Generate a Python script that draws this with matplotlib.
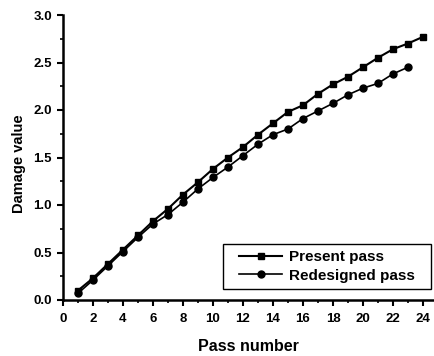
import matplotlib
matplotlib.use("Agg")
import matplotlib.pyplot as plt
from matplotlib.ticker import MultipleLocator
from matplotlib.patches import Rectangle

passes_present = list(range(1, 25))
present = [0.10, 0.23, 0.38, 0.53, 0.68, 0.83, 0.96, 1.11, 1.24, 1.38, 1.50, 1.61,
           1.74, 1.86, 1.98, 2.05, 2.17, 2.27, 2.35, 2.45, 2.55, 2.64, 2.70, 2.77]
passes_redesigned = list(range(1, 24))
redesigned = [0.07, 0.21, 0.36, 0.51, 0.66, 0.80, 0.90, 1.03, 1.17, 1.29, 1.40, 1.52,
              1.64, 1.74, 1.80, 1.91, 1.99, 2.07, 2.16, 2.23, 2.28, 2.38, 2.45]
xticks = list(range(0, 25, 2))
yticks = [0.0, 0.5, 1.0, 1.5, 2.0, 2.5, 3.0]

plt.rcParams['font.family'] = ['Liberation Sans', 'DejaVu Sans']
plt.rcParams['font.weight'] = 'bold'

fig = plt.figure(figsize=(4.34, 3.56), dpi=100)
ax = fig.add_axes([63/434, 1-300/356, (433-63)/434, (300-15)/356])

ax.plot(passes_present, present, color='black', lw=1.5, marker='s', ms=5,
        label='Present pass')
ax.plot(passes_redesigned, redesigned, color='black', lw=1.2, marker='o', ms=5,
        label='Redesigned pass')

ax.set_xlim(0, 24.67)
ax.set_ylim(0, 3.0)
ax.set_xticks(xticks)
ax.set_yticks(yticks)
ax.set_yticklabels([f"{v:.1f}" for v in yticks])
ax.xaxis.set_minor_locator(MultipleLocator(1))
ax.yaxis.set_minor_locator(MultipleLocator(0.25))
ax.tick_params(which='major', direction='out', length=4.5, width=1.5, labelsize=9.5)
ax.tick_params(axis='x', which='major', pad=5)
ax.tick_params(which='minor', direction='out', length=2.5, width=1.2)
for lab in ax.get_xticklabels() + ax.get_yticklabels():
    lab.set_fontweight('bold')

for s in ['top', 'right']:
    ax.spines[s].set_visible(False)
for s in ['left', 'bottom']:
    ax.spines[s].set_linewidth(1.8)

ax.set_xlabel('Pass number', fontsize=11.5, fontweight='bold')
ax.xaxis.set_label_coords(0.5, -0.137)
ax.set_ylabel('Damage value', fontsize=10.5, fontweight='bold')
ax.yaxis.set_label_coords(-0.1, 0.48)

# legend frame
ax.add_patch(Rectangle((0.432, 0.0386), 0.563, 0.1574, transform=ax.transAxes,
                       facecolor='white', edgecolor='black', lw=1.0, zorder=4,
                       clip_on=False))
leg = ax.legend(loc='center', bbox_to_anchor=(0.7135, 0.1175), frameon=False,
                fontsize=11, handlelength=2.8, labelspacing=0.3,
                handletextpad=0.45, borderpad=0.0, borderaxespad=0.0)
leg.set_zorder(5)
for t in leg.get_texts():
    t.set_fontweight('bold')

fig.savefig('out.png', dpi=100)
